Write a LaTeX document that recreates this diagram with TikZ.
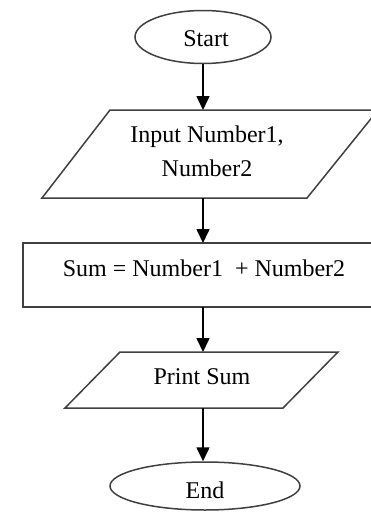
\documentclass[tikz,border=0pt]{standalone}
\usepackage{fontspec}
\setmainfont{Liberation Serif}
\usetikzlibrary{shapes.geometric,arrows.meta}
\begin{document}
\begin{tikzpicture}[x=1pt,y=1pt,
  shapeline/.style={draw=black!75, line width=1.5pt},
  lbl/.style={font=\fontsize{24}{34}\selectfont, align=center, inner sep=0pt, text=black},
  flow/.style={draw=black, line width=1.6pt, -{Triangle[length=14pt,width=13pt]}}]
\clip (0,0) rectangle (371,-512);
% Start
\node[ellipse, shapeline, minimum width=136pt, minimum height=53pt, inner sep=0pt] (start) at (203,-37) {};
\node[lbl] (tstart) at (206,-39) {Start};
% Input parallelogram
\draw[shapeline] (110,-110) -- (378,-110) -- (307,-198) -- (42,-198) -- cycle;
\coordinate (inTop) at (203,-110);
\coordinate (inBot) at (203,-198);
\node[lbl] (tin) at (207,-151) {Input Number1,\\Number2};
% Process rectangle
\draw[shapeline] (23,-243) rectangle (385,-307);
\coordinate (sumTop) at (203,-243);
\coordinate (sumBot) at (203,-307);
\node[lbl] (tsum) at (204,-268) {Sum = Number1 \ + Number2};
% Print parallelogram
\draw[shapeline] (120,-352) -- (338,-352) -- (283,-408) -- (65,-408) -- cycle;
\coordinate (prTop) at (203,-352);
\coordinate (prBot) at (203,-408);
\node[lbl] (tpr) at (202,-377) {Print Sum};
% End
\node[ellipse, shapeline, minimum width=190pt, minimum height=48pt, inner sep=0pt] (end) at (205,-486) {};
\node[lbl] (tend) at (205,-490) {End};
% connectors
\draw[flow] (start.south) -- (inTop);
\draw[flow] (inBot) -- (sumTop);
\draw[flow] (sumBot) -- (prTop);
\draw[flow] (prBot) -- (end.north -| prBot);
\end{tikzpicture}
\end{document}
